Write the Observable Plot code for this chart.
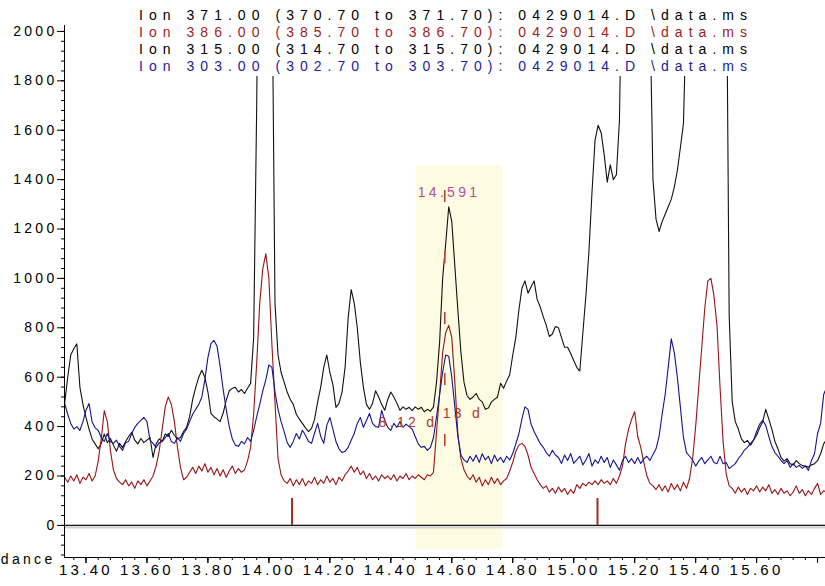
<!DOCTYPE html>
<html><head><meta charset="utf-8">
<script src="https://cdn.jsdelivr.net/npm/d3@7"></script>
<script src="https://cdn.jsdelivr.net/npm/@observablehq/plot@0.6"></script>
<style>
html,body{margin:0;padding:0;background:#fff;}
#chart{position:relative;width:825px;height:586px;overflow:hidden;}
</style></head><body><div id="chart"></div>
<script>
// Retention times (min)
const times = [13.33,13.34,13.35,13.36,13.37,13.38,13.39,13.40,13.41,13.42,13.43,13.44,13.45,13.46,13.47,13.48,13.49,13.50,13.51,13.52,13.53,13.54,13.55,13.56,13.57,13.58,13.59,13.60,13.61,13.62,13.63,13.64,13.65,13.66,13.67,13.68,13.69,13.70,13.71,13.72,13.73,13.74,13.75,13.76,13.77,13.78,13.79,13.80,13.81,13.82,13.83,13.84,13.85,13.86,13.87,13.88,13.89,13.90,13.91,13.92,13.93,13.94,13.95,13.96,13.97,13.98,13.99,14.00,14.01,14.02,14.03,14.04,14.05,14.06,14.07,14.08,14.09,14.10,14.11,14.12,14.13,14.14,14.15,14.16,14.17,14.18,14.19,14.20,14.21,14.22,14.23,14.24,14.25,14.26,14.27,14.28,14.29,14.30,14.31,14.32,14.33,14.34,14.35,14.36,14.37,14.38,14.39,14.40,14.41,14.42,14.43,14.44,14.45,14.46,14.47,14.48,14.49,14.50,14.51,14.52,14.53,14.54,14.55,14.56,14.57,14.58,14.59,14.60,14.61,14.62,14.63,14.64,14.65,14.66,14.67,14.68,14.69,14.70,14.71,14.72,14.73,14.74,14.75,14.76,14.77,14.78,14.79,14.80,14.81,14.82,14.83,14.84,14.85,14.86,14.87,14.88,14.89,14.90,14.91,14.92,14.93,14.94,14.95,14.96,14.97,14.98,14.99,15.00,15.01,15.02,15.03,15.04,15.05,15.06,15.07,15.08,15.09,15.10,15.11,15.12,15.13,15.14,15.15,15.16,15.17,15.18,15.19,15.20,15.21,15.22,15.23,15.24,15.25,15.26,15.27,15.28,15.29,15.30,15.31,15.32,15.33,15.34,15.35,15.36,15.37,15.38,15.39,15.40,15.41,15.42,15.43,15.44,15.45,15.46,15.47,15.48,15.49,15.50,15.51,15.52,15.53,15.54,15.55,15.56,15.57,15.58,15.59,15.60,15.61,15.62,15.63,15.64,15.65,15.66,15.67,15.68,15.69,15.70,15.71,15.72,15.73,15.74,15.75,15.76,15.77,15.78,15.79,15.80,15.81,15.82,15.83];

// Ion 371.00 / 315.00 (black)
const ion371 = [494,600,690,715,735,560,490,437,390,350,
330,310,332,370,335,352,325,300,332,315,
340,360,377,345,330,352,335,345,356,275,
330,350,340,370,360,385,365,350,356,380,
397,440,510,559,600,628,600,540,453,440,
430,420,455,506,545,555,559,540,550,534,
555,575,760,1700,3000,3500,3500,3200,2300,900,
690,620,580,540,510,490,450,430,413,395,
380,393,430,500,560,640,690,620,570,478,
494,540,640,840,955,900,800,660,560,490,
470,494,545,520,490,466,510,540,520,494,
466,480,470,478,465,480,470,478,460,470,
462,480,580,740,1000,1140,1290,1230,1050,870,
700,580,525,510,520,534,510,500,470,475,
500,510,520,575,555,585,610,690,760,870,
960,990,940,965,990,915,885,845,810,765,
775,805,800,760,721,721,696,668,640,625,
780,930,1110,1350,1560,1620,1590,1500,1390,1460,
1400,1420,1640,2400,3000,3300,3500,3500,3500,3400,
3200,2800,2100,1400,1240,1190,1230,1260,1290,1320,
1370,1437,1530,1627,2100,3000,3500,3500,3500,3500,
3500,3500,3500,3500,3500,3500,3300,2500,850,500,
420,390,350,335,344,325,345,365,395,420,
470,430,390,340,310,275,260,270,250,245,
262,250,242,240,236,245,250,262,290,330,
350];

// Ion 386.00 (red)
const ion386 = [195,175,200,180,205,170,195,185,210,180,
200,260,350,465,420,305,225,190,175,165,
185,160,175,150,180,165,185,160,180,200,
240,300,390,480,520,490,420,316,235,185,
195,215,235,210,240,220,250,215,235,205,
230,200,225,195,220,240,210,230,215,225,
260,316,450,656,900,1040,1100,1000,730,500,
270,205,180,170,190,160,185,165,190,160,
180,170,195,165,185,170,200,175,190,165,
195,180,205,220,240,215,235,205,220,190,
210,185,200,180,205,190,200,185,205,180,
200,190,210,185,200,190,205,195,185,205,
200,215,380,530,700,780,810,760,580,370,
270,225,200,185,205,175,195,160,185,165,
195,170,190,165,180,190,220,255,300,325,
332,320,285,235,210,185,165,150,160,135,
150,130,155,135,150,125,145,130,165,150,
170,160,175,165,180,165,185,170,180,165,
190,170,200,240,330,390,430,460,360,316,
255,200,170,160,145,165,140,160,135,170,
145,165,140,175,150,190,270,400,560,720,
880,990,1000,930,810,560,340,210,160,150,
130,155,135,150,125,150,140,160,135,155,
140,165,130,145,125,150,130,140,120,135,
160,130,145,120,140,125,150,170,125,140,
135];

// Ion 303.00 (blue)
const ion303 = [494,450,413,390,400,385,420,466,494,420,
395,385,356,340,372,340,332,345,320,304,
335,340,372,397,413,425,437,420,345,332,
316,335,340,355,372,340,332,356,340,372,
390,420,450,470,490,520,590,680,736,749,
725,645,550,470,400,350,325,320,340,330,
356,340,385,440,490,545,590,650,640,540,
470,420,380,335,316,340,372,350,385,365,
340,332,375,413,360,332,405,437,390,340,
310,295,300,316,345,372,413,437,397,425,
453,413,400,397,466,425,397,385,413,397,
420,397,410,400,390,360,330,316,320,304,
316,356,440,530,620,690,685,600,480,360,
285,265,255,280,260,285,255,290,265,280,
250,285,260,275,255,280,265,291,330,370,
430,480,470,410,380,356,332,316,295,280,
304,285,275,251,285,263,291,251,265,280,
245,265,291,240,265,251,280,255,275,235,
265,245,223,263,280,255,270,250,275,251,
270,280,263,287,310,360,450,530,640,755,
700,599,478,356,295,280,265,240,260,275,
250,265,280,255,250,280,250,255,230,240,
250,270,285,305,316,332,345,380,410,425,
405,360,320,295,280,263,250,262,235,250,
235,243,231,240,223,263,290,372,413,530,
560];

const legendLines = [
  "Ion 371.00 (370.70 to 371.70): 0429014.D \\data.ms",
  "Ion 386.00 (385.70 to 386.70): 0429014.D \\data.ms",
  "Ion 315.00 (314.70 to 315.70): 0429014.D \\data.ms",
  "Ion 303.00 (302.70 to 303.70): 0429014.D \\data.ms"
];
const legendColors = ["#000000", "#a01c1c", "#000000", "#1c1c9c"];

const xTickValues = [13.4,13.6,13.8,14.0,14.2,14.4,14.6,14.8,15.0,15.2,15.4,15.6];
const xTickLabels = ["13.40","13.60","13.80","14.00","14.20","14.40","14.60","14.80","15.00","15.20","15.40","15.60"];
const yTickValues = [0,200,400,600,800,1000,1200,1400,1600,1800,2000];
const yTickLabels = ["0","200","400","600","800","1000","1200","1400","1600","1800","2000"];

const bandTimes = [14.483, 14.768];
const bandAbund = [-97, 1457];
const markerTimes = [14.076, 15.078];
const markerAbund = [0, 109];
const peakTime = [14.577];
const peakLine = [1356, 243];
const peakLabel = ["14.591"];
const peakLabelPos = [14.591, 1330];
const areaLabels = ["8.12 d", "13 d"];
const areaLabelTimes = [14.36, 14.570];
const areaLabelAbund = [397, 433];

const xDomain = [13.3295, 15.826];
const yDomain = [-130, 2024];

const mk = v => times.map((t, i) => ({t, v: v[i]}));
const xMinor = d3.range(0, 62).map(i => +(13.36 + 0.04 * i).toFixed(2));
const yMinor = d3.range(-120, 2001, 40);

const FONT = "'Liberation Sans', Arial, sans-serif";

const plot = Plot.plot({
  width: 825, height: 586,
  marginLeft: 64, marginRight: 0, marginTop: 25, marginBottom: 29,
  x: {domain: xDomain},
  y: {domain: yDomain},
  style: {fontFamily: FONT, fontSize: "14px", color: "#000", background: "#fff"},
  marks: [
    Plot.rect([0], {x1: () => bandTimes[0], x2: () => bandTimes[1], y1: () => bandAbund[0], y2: () => bandAbund[1], fill: "#fdfce3"}),
    Plot.ruleY([0], {stroke: "#cfcfcf", strokeWidth: 2, dy: 2}),
    Plot.ruleY([0], {stroke: "#111", strokeWidth: 1.2}),
    Plot.ruleX(markerTimes, {y1: markerAbund[0], y2: markerAbund[1], stroke: "#a02a2a", strokeWidth: 2}),
    Plot.line(mk(ion371), {x: "t", y: "v", stroke: "#111111", strokeWidth: 1.1, clip: true}),
    Plot.line(mk(ion386), {x: "t", y: "v", stroke: "#961414", strokeWidth: 1.1, clip: true}),
    Plot.line(mk(ion303), {x: "t", y: "v", stroke: "#14148c", strokeWidth: 1.1, clip: true}),
    Plot.ruleX(peakTime, {y1: peakLine[0], y2: peakLine[1], stroke: "#b5452f", strokeWidth: 1.6, strokeDasharray: "12,49"}),
    Plot.text(peakLabel, {x: () => peakLabelPos[0], y: () => peakLabelPos[1], text: d => d, fill: "#b4509e", fontSize: 14, lineAnchor: "bottom"}),
    Plot.text(areaLabels, {x: (d, i) => areaLabelTimes[i], y: (d, i) => areaLabelAbund[i], text: d => d, fill: "#aa3b2f", fontSize: 14, textAnchor: "start", lineAnchor: "bottom"}),
    Plot.ruleX([xDomain[0]], {stroke: "#000", strokeWidth: 1}),
    Plot.ruleY([yDomain[0]], {stroke: "#000", strokeWidth: 1}),
    Plot.axisY(yMinor, {tickSize: 3, tickFormat: () => "", label: null}),
    Plot.axisY(yTickValues, {tickSize: 7, tickPadding: 0, tickFormat: d => yTickLabels[yTickValues.indexOf(d)], label: null, fontSize: 14}),
    Plot.axisX(xMinor, {tickSize: 3, tickFormat: () => "", label: null}),
    Plot.axisX([...xTickValues, 15.8], {tickSize: 6, tickFormat: () => "", label: null}),
    Plot.axisX(xTickValues, {tickSize: 6, tickPadding: 1, tickFormat: d => xTickLabels[xTickValues.indexOf(d)], label: null, fontSize: 15}),
    Plot.text(["Abundance"], {frameAnchor: "bottom-left", dx: -9, dy: 6, textAnchor: "end", lineAnchor: "bottom", fontSize: 14, fill: "#000"})
  ]
});

const svg = d3.select(plot);
svg.selectAll("g[aria-label='y-axis tick label'] text, g[aria-label='x-axis tick label'] text, g[aria-label='text'] text")
  .style("letter-spacing", "3.3px");
const lg = svg.append("g").attr("text-anchor", "start");
lg.append("rect").attr("x", 128).attr("y", 0).attr("width", 640).attr("height", 76).attr("fill", "#fff");
legendLines.forEach((s, i) => {
  lg.append("text").attr("x", 139).attr("y", 20 + 17 * i)
    .attr("text-anchor", "start")
    .attr("textLength", 608).attr("lengthAdjust", "spacing")
    .attr("fill", legendColors[i])
    .style("font-family", FONT).style("font-size", "14px")
    .text(s);
});
document.getElementById("chart").appendChild(plot);
</script>
</body></html>
